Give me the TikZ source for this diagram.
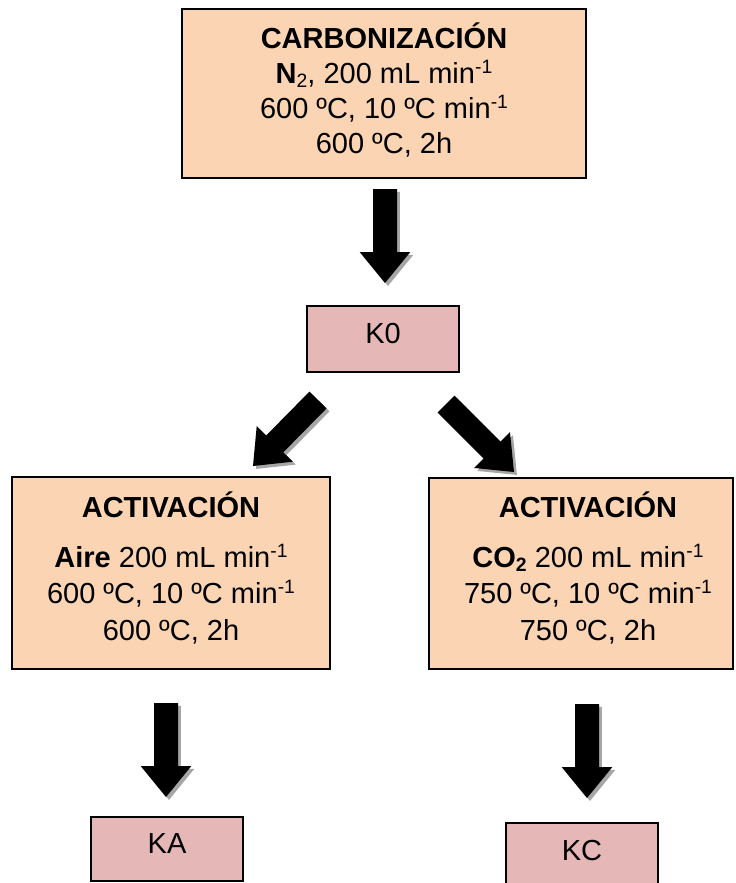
\documentclass[tikz,border=0pt]{standalone}
\usepackage{fontspec}
\setmainfont{Liberation Sans}
\usetikzlibrary{calc}
\definecolor{peach}{HTML}{FBD4B4}
\definecolor{rose}{HTML}{E5B8B7}
\definecolor{shadowgray}{HTML}{A6A6A6}
\newcommand{\supx}[1]{\raisebox{7.5pt}{\fontsize{14.5}{15}\selectfont #1}}
\newcommand{\subx}[1]{\raisebox{-3pt}{\fontsize{14.5}{15}\selectfont #1}}
\newcommand{\blockarrow}[2]{%
  \path ($(#2)!23.25pt!(#1)$) coordinate (bah);
  \foreach \sh/\col in {2.2pt/shadowgray,0pt/black}{%
    \fill[\col, transform canvas={shift={(\sh,-\sh)}}]
      ($(#1)!9pt!90:(#2)$) -- ($(bah)!9pt!-90:(#1)$) -- ($(bah)!19pt!-90:(#1)$)
      -- (#2) -- ($(bah)!19pt!90:(#1)$) -- ($(bah)!9pt!90:(#1)$)
      -- ($(#1)!9pt!-90:(#2)$) -- cycle;}
}
\begin{document}
\begin{tikzpicture}[x=0.75pt,y=-0.75pt,
  box/.style={draw=black, line width=1.1pt, inner sep=0pt, rectangle},
  bigbox/.style={box, fill=peach},
  smallbox/.style={box, fill=rose, minimum width={152*0.75pt},
    font=\fontsize{21.75}{26.25}\selectfont, text height=15.6pt, text depth=9pt},
  toptxt/.style={align=center, inner sep=0pt, font=\fontsize{21.75}{26.25}\selectfont},
  acttxt/.style={align=center, inner sep=0pt, font=\fontsize{21.75}{27.25}\selectfont}]
\fill[white] (0,0) rectangle (736,883);
\useasboundingbox (0,0) rectangle (736,883);

% boxes
\node[bigbox, minimum width={404*0.75pt}, minimum height={169*0.75pt}] (carb) at (384,93.5) {};
\node[toptxt] (carbtxt) at (384,90) {{\bfseries CARBONIZACIÓN}\\
  {\bfseries N}\subx{2}, 200 mL min\supx{-1}\\
  600 ºC, 10 ºC min\supx{-1}\\
  600 ºC, 2h};

\node[smallbox, minimum height={66*0.75pt}] (k0) at (383,339) {K0};

\node[bigbox, minimum width={318*0.75pt}, minimum height={192*0.75pt}] (actA) at (171,573) {};
\node[acttxt] (actAtxt) at (171,568) {{\bfseries ACTIVACIÓN}\\[10pt]
  {\bfseries Aire} 200 mL min\supx{-1}\\
  600 ºC, 10 ºC min\supx{-1}\\
  600 ºC, 2h};

\node[bigbox, minimum width={304*0.75pt}, minimum height={191*0.75pt}] (actC) at (581,573.5) {};
\node[acttxt] (actCtxt) at (588,568) {{\bfseries ACTIVACIÓN}\\[10pt]
  {\bfseries CO\subx{2}} 200 mL min\supx{-1}\\
  750 ºC, 10 ºC min\supx{-1}\\
  750 ºC, 2h};

\node[smallbox, minimum height={64*0.75pt}] (ka) at (167,849) {KA};
\node[smallbox, minimum height={66*0.75pt}] (kc) at (582,856) {KC};

% block arrows
\coordinate (a1s) at (385,189); \coordinate (a1e) at (385,283);
\coordinate (a2s) at (318,400); \coordinate (a2e) at (253,466);
\coordinate (a3s) at (446,404); \coordinate (a3e) at (514,472);
\coordinate (a4s) at (166,703); \coordinate (a4e) at (166,797);
\coordinate (a5s) at (587,704); \coordinate (a5e) at (587,798);
\blockarrow{a1s}{a1e}
\blockarrow{a2s}{a2e}
\blockarrow{a3s}{a3e}
\blockarrow{a4s}{a4e}
\blockarrow{a5s}{a5e}
\end{tikzpicture}
\end{document}
